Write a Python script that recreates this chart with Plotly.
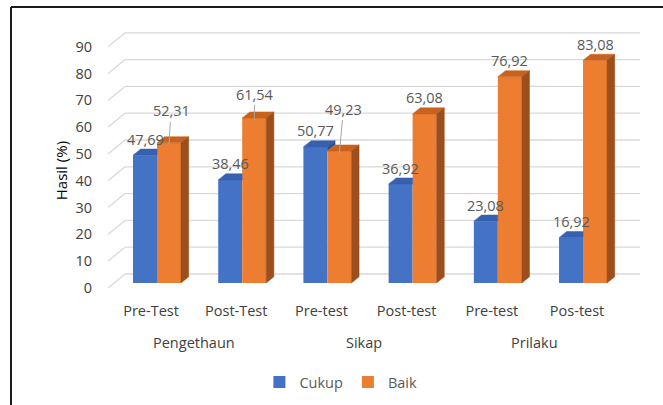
import plotly.graph_objects as go

# ---- data ----
categories = ["Pre-Test", "Post-Test", "Pre-test", "Post-test", "Pre-test", "Pos-test"]
groups = ["Pengethaun", "Sikap", "Prilaku"]
cukup = [47.69, 38.46, 50.77, 36.92, 23.08, 16.92]
baik = [52.31, 61.54, 49.23, 63.08, 76.92, 83.08]
y_ticks = [0, 10, 20, 30, 40, 50, 60, 70, 80, 90]

# ---- style / geometry ----
BLUE, BLUE_TOP, BLUE_SIDE = "#4472C4", "#3760AE", "#2F528F"
ORANGE, ORANGE_TOP, ORANGE_SIDE = "#ED7D31", "#C8621D", "#9C4F1C"
W = 0.2817          # bar width (data units)
DX, DY = 0.09, 2.3  # 3-D depth offsets (data units)
GRID_FRONT_DY, GRID_BACK_DY = -1.87, 3.36
GRID_X_FRONT, GRID_X_BACK, GRID_X_END = -0.575, -0.376, 5.669
LEADER_DROP = 0.75  # leader lines end slightly below the bar's front top
FONT_FAMILY = "Open Sans, Noto Sans, sans-serif"
LABEL_FONT = dict(family=FONT_FAMILY, size=14.5, color="#595959")
DARK_FONT = dict(family=FONT_FAMILY, size=14.5, color="#404040")
TICK_FONT = dict(family=FONT_FAMILY, size=14.5, color="#404040")

fig = go.Figure()
xs = list(range(len(categories)))

fig.add_trace(go.Bar(x=xs, y=cukup, name="Cukup", marker=dict(color=BLUE, line_width=0),
                     width=W, offset=-W, hoverinfo="skip"))
fig.add_trace(go.Bar(x=xs, y=baik, name="Baik", marker=dict(color=ORANGE, line_width=0),
                     width=W, offset=0, hoverinfo="skip"))


def poly(px, py, color):
    fig.add_trace(go.Scatter(x=px + [px[0]], y=py + [py[0]], mode="lines", fill="toself",
                             fillcolor=color, line=dict(color=color, width=0.5),
                             showlegend=False, hoverinfo="skip"))


for i, (b, o) in enumerate(zip(cukup, baik)):
    xl, xr = i - W, i
    # blue top (clipped behind taller orange bar)
    if o >= b + DY:
        poly([xl, xr, xr, xl + DX], [b, b, b + DY, b + DY], BLUE_TOP)
    else:
        poly([xl, xr, xr + DX, xl + DX], [b, b, b + DY, b + DY], BLUE_TOP)
        poly([xr, xr, xr + DX, xr + DX], [o, b, b + DY, o + DY], BLUE_SIDE)
    # orange top and side
    poly([i, i + W, i + W + DX, i + DX], [o, o, o + DY, o + DY], ORANGE_TOP)
    poly([i + W, i + W, i + W + DX, i + W + DX], [0, o, o + DY, DY], ORANGE_SIDE)

# invisible trace so the tick-label axis renders
fig.add_trace(go.Scatter(x=[None], y=[None], yaxis="y2", showlegend=False, hoverinfo="skip"))

# perspective gridlines
shapes = []
for v in y_ticks:
    shapes.append(dict(type="line", xref="x", yref="y", layer="below",
                       x0=GRID_X_BACK, x1=GRID_X_END, y0=v + GRID_BACK_DY, y1=v + GRID_BACK_DY,
                       line=dict(color="#D9D9D9", width=1.3)))
    shapes.append(dict(type="line", xref="x", yref="y", layer="below",
                       x0=GRID_X_FRONT, x1=GRID_X_BACK, y0=v + GRID_FRONT_DY, y1=v + GRID_BACK_DY,
                       line=dict(color="#D9D9D9", width=1.3)))
# chart border (left and top)
shapes.append(dict(type="line", xref="paper", yref="paper", x0=-0.1618, x1=-0.1618, y0=1.046, y1=-0.4,
                   line=dict(color="#1a1a1a", width=2)))
shapes.append(dict(type="line", xref="paper", yref="paper", x0=-0.1618, x1=1.1, y0=1.046, y1=1.046,
                   line=dict(color="#1a1a1a", width=2)))

# data labels (some with leader lines, offsets in px)
leaders = {("b", 0): (2, -34), ("b", 1): (0.5, -26), ("b", 2): (4, -44)}
annotations = []
for i, (b, o) in enumerate(zip(cukup, baik)):
    for key, val, xc in (("c", b, i - W / 2), ("b", o, i + W / 2)):
        txt = f"{val:.2f}".replace(".", ",")
        if (key, i) in leaders:
            ax, ay = leaders[(key, i)]
            annotations.append(dict(x=xc, y=val - LEADER_DROP, xref="x", yref="y", text=txt,
                                    showarrow=True, arrowhead=0, arrowwidth=1, arrowcolor="#A6A6A6",
                                    ax=ax, ay=ay, standoff=0, font=LABEL_FONT))
        else:
            annotations.append(dict(x=xc, y=val, xref="x", yref="y", text=txt, showarrow=False,
                                    yshift=16, font=LABEL_FONT))
# group labels
for k, g in enumerate(groups):
    annotations.append(dict(x=2 * k + 0.5 - 0.07, y=-0.15, xref="x", yref="paper", text=g,
                            showarrow=False, yanchor="middle", font=DARK_FONT))
# y-axis title
annotations.append(dict(x=-0.0709, y=0.46, xref="paper", yref="paper", text="Hasil (%)",
                        textangle=-90, showarrow=False, xanchor="center", yanchor="middle",
                        font=dict(family=FONT_FAMILY, size=15, color="#000000")))

fig.update_layout(
    width=663, height=405,
    margin=dict(l=100, r=13, t=20, b=105, autoexpand=False),
    paper_bgcolor="white", plot_bgcolor="white",
    barmode="overlay",
    showlegend=True,
    legend=dict(orientation="h", x=0.438, xanchor="center", y=-0.293, yanchor="middle",
                font=LABEL_FONT, itemwidth=30, traceorder="normal"),
    xaxis=dict(range=[-0.669, 5.786], tickvals=[x - 0.07 for x in xs], ticktext=categories,
               showgrid=False, zeroline=False, showline=False, ticks="", tickfont=DARK_FONT,
               fixedrange=True),
    yaxis=dict(range=[-6.34, 98.14], showgrid=False, zeroline=False, showline=False,
               showticklabels=False, fixedrange=True),
    yaxis2=dict(range=[-4.48, 100.0], overlaying="y", side="left", anchor="x",
                tickvals=y_ticks, showgrid=False, zeroline=False, showline=False,
                ticks="outside", ticklen=4, tickcolor="rgba(0,0,0,0)", tickfont=TICK_FONT,
                fixedrange=True),
    shapes=shapes,
    annotations=annotations,
)

fig.write_html("out.html", config={"displayModeBar": False},
               post_script="document.body.style.margin='0';")
